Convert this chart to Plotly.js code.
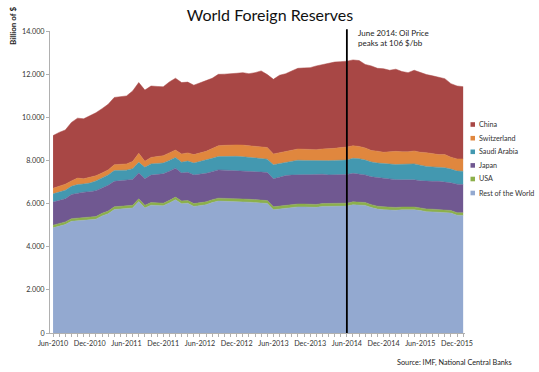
<!DOCTYPE html>
<html>
<head>
<meta charset="utf-8">
<script src="https://cdn.plot.ly/plotly-3.0.1.min.js"></script>
<style>html,body{margin:0;padding:0;background:#fff;}#chart{width:539px;height:372px;}</style>
</head>
<body>
<div id="chart"></div>
<script>
const months = [
 'Jun-2010','Jul-2010','Aug-2010','Sep-2010','Oct-2010','Nov-2010','Dec-2010',
 'Jan-2011','Feb-2011','Mar-2011','Apr-2011','May-2011','Jun-2011','Jul-2011','Aug-2011','Sep-2011','Oct-2011','Nov-2011','Dec-2011',
 'Jan-2012','Feb-2012','Mar-2012','Apr-2012','May-2012','Jun-2012','Jul-2012','Aug-2012','Sep-2012','Oct-2012','Nov-2012','Dec-2012',
 'Jan-2013','Feb-2013','Mar-2013','Apr-2013','May-2013','Jun-2013','Jul-2013','Aug-2013','Sep-2013','Oct-2013','Nov-2013','Dec-2013',
 'Jan-2014','Feb-2014','Mar-2014','Apr-2014','May-2014','Jun-2014','Jul-2014','Aug-2014','Sep-2014','Oct-2014','Nov-2014','Dec-2014',
 'Jan-2015','Feb-2015','Mar-2015','Apr-2015','May-2015','Jun-2015','Jul-2015','Aug-2015','Sep-2015','Oct-2015','Nov-2015','Dec-2015',
 'Jan-2016'
];
const tickLabels = ['Jun-2010','Dec-2010','Jun-2011','Dec-2011','Jun-2012','Dec-2012','Jun-2013','Dec-2013','Jun-2014','Dec-2014','Jun-2015','Dec-2015'];

const restOfWorld = [
 4875,4955,5025,5175,5205,5205,5255,5275,5425,5525,
 5725,5745,5745,5795,6095,5795,5925,5905,5895,6025,
 6175,5995,6015,5865,5905,5945,6045,6115,6105,6085,
 6085,6075,6065,6045,6025,6005,5715,5745,5795,5825,
 5845,5845,5835,5825,5865,5865,5875,5875,5885,5945,
 5935,5915,5815,5745,5715,5700,5690,5710,5720,5710,
 5675,5625,5615,5595,5580,5560,5460,5450];
const usa = [
 125,125,125,125,125,125,125,125,125,125,
 125,125,125,125,125,125,125,125,125,125,
 125,125,125,135,135,135,135,135,135,135,
 135,135,135,135,135,135,135,135,135,135,
 135,135,135,135,135,135,135,135,135,135,
 135,135,135,135,135,130,130,130,130,130,
 125,125,125,125,120,120,120,120];
const japan = [
 1070,1070,1070,1120,1150,1200,1170,1200,1170,1200,
 1180,1180,1200,1200,1200,1230,1270,1330,1360,1350,
 1340,1300,1310,1330,1320,1320,1300,1310,1310,1320,
 1310,1310,1290,1300,1300,1300,1300,1340,1370,1360,
 1360,1360,1370,1400,1360,1330,1320,1330,1330,1320,
 1310,1280,1290,1320,1310,1310,1290,1260,1250,1260,
 1260,1280,1290,1310,1300,1280,1320,1310];
const saudiArabia = [
 380,400,400,380,400,380,400,450,480,480,
 500,480,480,500,490,530,520,500,500,500,
 500,500,520,550,590,600,620,620,640,650,
 660,650,660,650,640,620,650,630,630,650,
 670,660,650,630,630,660,670,670,670,700,
 700,690,690,680,690,690,700,720,730,740,
 720,690,670,650,660,640,610,620];
const switzerland = [
 260,250,280,250,300,240,270,240,220,230,
 270,290,290,330,420,280,300,320,340,350,
 340,380,380,390,410,420,450,500,510,530,
 530,540,540,540,540,540,500,510,510,530,
 520,520,510,510,540,550,560,590,600,580,
 570,560,530,550,530,570,610,580,570,600,
 600,640,600,590,610,550,560,570];
const china = [
 2440,2500,2510,2710,2780,2780,2850,2920,2980,3040,
 3120,3140,3150,3270,3280,3300,3310,3250,3190,3290,
 3330,3310,3280,3220,3250,3280,3260,3310,3300,3290,
 3320,3360,3330,3400,3510,3380,3460,3590,3580,3650,
 3740,3770,3800,3880,3920,3970,4000,3980,3980,3980,
 3980,3870,3920,3840,3870,3780,3810,3720,3670,3740,
 3690,3620,3620,3570,3520,3410,3380,3350];

const seriesNames = ['Rest of the World','USA','Japan','Saudi Arabia','Switzerland','China'];
const seriesValues = [restOfWorld, usa, japan, saudiArabia, switzerland, china];
const seriesColors = ['#93A9D0','#8CB04A','#705891','#4398B0','#E0873E','#A84745'];

const eventMonth = 'Jun-2014';
const eventText = 'June 2014: Oil Price<br>peaks at 106 $/bb';

const traces = seriesNames.map((n, k) => ({
  type: 'scatter', mode: 'lines', name: n,
  x: months, y: seriesValues[k], stackgroup: 'one',
  line: {width: 0.5, color: seriesColors[k]}, fillcolor: seriesColors[k],
  showlegend: false, hoverinfo: 'skip'
}));

const L = 50, R = 465, T = 31, B = 333;
const px = v => (v - L) / (R - L);
const py = v => (B - v) / (B - T);

const annotations = [];
const shapes = [];
const legendOrder = [5,4,3,2,1,0];
const legendY = [124.5,138.2,151.8,165.4,179,193];
legendOrder.forEach((k, j) => {
  annotations.push({xref:'paper', yref:'paper', x: px(476.5), y: py(legendY[j]), xanchor:'left', yanchor:'middle',
    text: seriesNames[k], showarrow:false, font:{family:'Lato', size:7.2, color:'#333'}});
  shapes.push({type:'rect', xref:'paper', yref:'paper', x0: px(470.5), x1: px(475),
    y0: py(legendY[j]+2.3), y1: py(legendY[j]-2.3), fillcolor: seriesColors[k], line:{width:0}});
});
annotations.push({xref:'paper', yref:'paper', x: px(13), y: py(26), xanchor:'center', yanchor:'middle',
  text:'<b>Billion of $</b>', textangle:-90, showarrow:false, font:{family:'Lato', size:8, color:'#222'}});
annotations.push({xref:'paper', yref:'paper', x: px(356), y: py(38.5), xanchor:'left', yanchor:'middle', align:'left',
  text: eventText, showarrow:false, font:{family:'Lato', size:8, color:'#222'}});
annotations.push({xref:'paper', yref:'paper', x: px(514), y: py(362.5), xanchor:'right', yanchor:'middle',
  text:'Source: IMF, National Central Banks', showarrow:false, font:{family:'Lato', size:7.3, color:'#222'}});
shapes.push({type:'line', xref:'x', yref:'paper', x0: months.indexOf(eventMonth), x1: months.indexOf(eventMonth),
  y0: 0, y1: 1.006, line:{color:'#000', width:1.8}});

const layout = {
  width: 539, height: 372,
  margin: {l: L, r: 539 - R, t: T, b: 372 - B},
  paper_bgcolor: '#fff', plot_bgcolor: '#fff',
  separators: ',.',
  title: {text: 'World Foreign Reserves', font: {family: 'Lato', size: 16, color: '#111'},
    xref: 'container', x: 270/539, xanchor: 'center', yref: 'container', y: 1 - 15/372, yanchor: 'middle'},
  xaxis: {type: 'category', categoryorder: 'array', categoryarray: months,
    range: [-0.5, 67.3], tickmode: 'array', tickvals: months,
    ticktext: months.map(m => tickLabels.includes(m) ? m : ''),
    tickangle: 0, ticks: 'outside', ticklen: 3, tickcolor: '#b0b0b0', showline: true, linecolor: '#b0b0b0',
    showgrid: false, zeroline: false, tickfont: {family: 'Lato', size: 7.2, color: '#333'}},
  yaxis: {range: [0, 14000], tickmode: 'array', tickvals: [0,2000,4000,6000,8000,10000,12000,14000],
    tickformat: ',d', ticks: 'outside', ticklen: 3, tickcolor: '#b0b0b0', showline: true, linecolor: '#b0b0b0',
    showgrid: false, zeroline: false, tickfont: {family: 'Lato', size: 7.2, color: '#333'}},
  annotations: annotations,
  shapes: shapes
};

Plotly.newPlot('chart', traces, layout, {staticPlot: true, displayModeBar: false});
</script>
</body>
</html>
